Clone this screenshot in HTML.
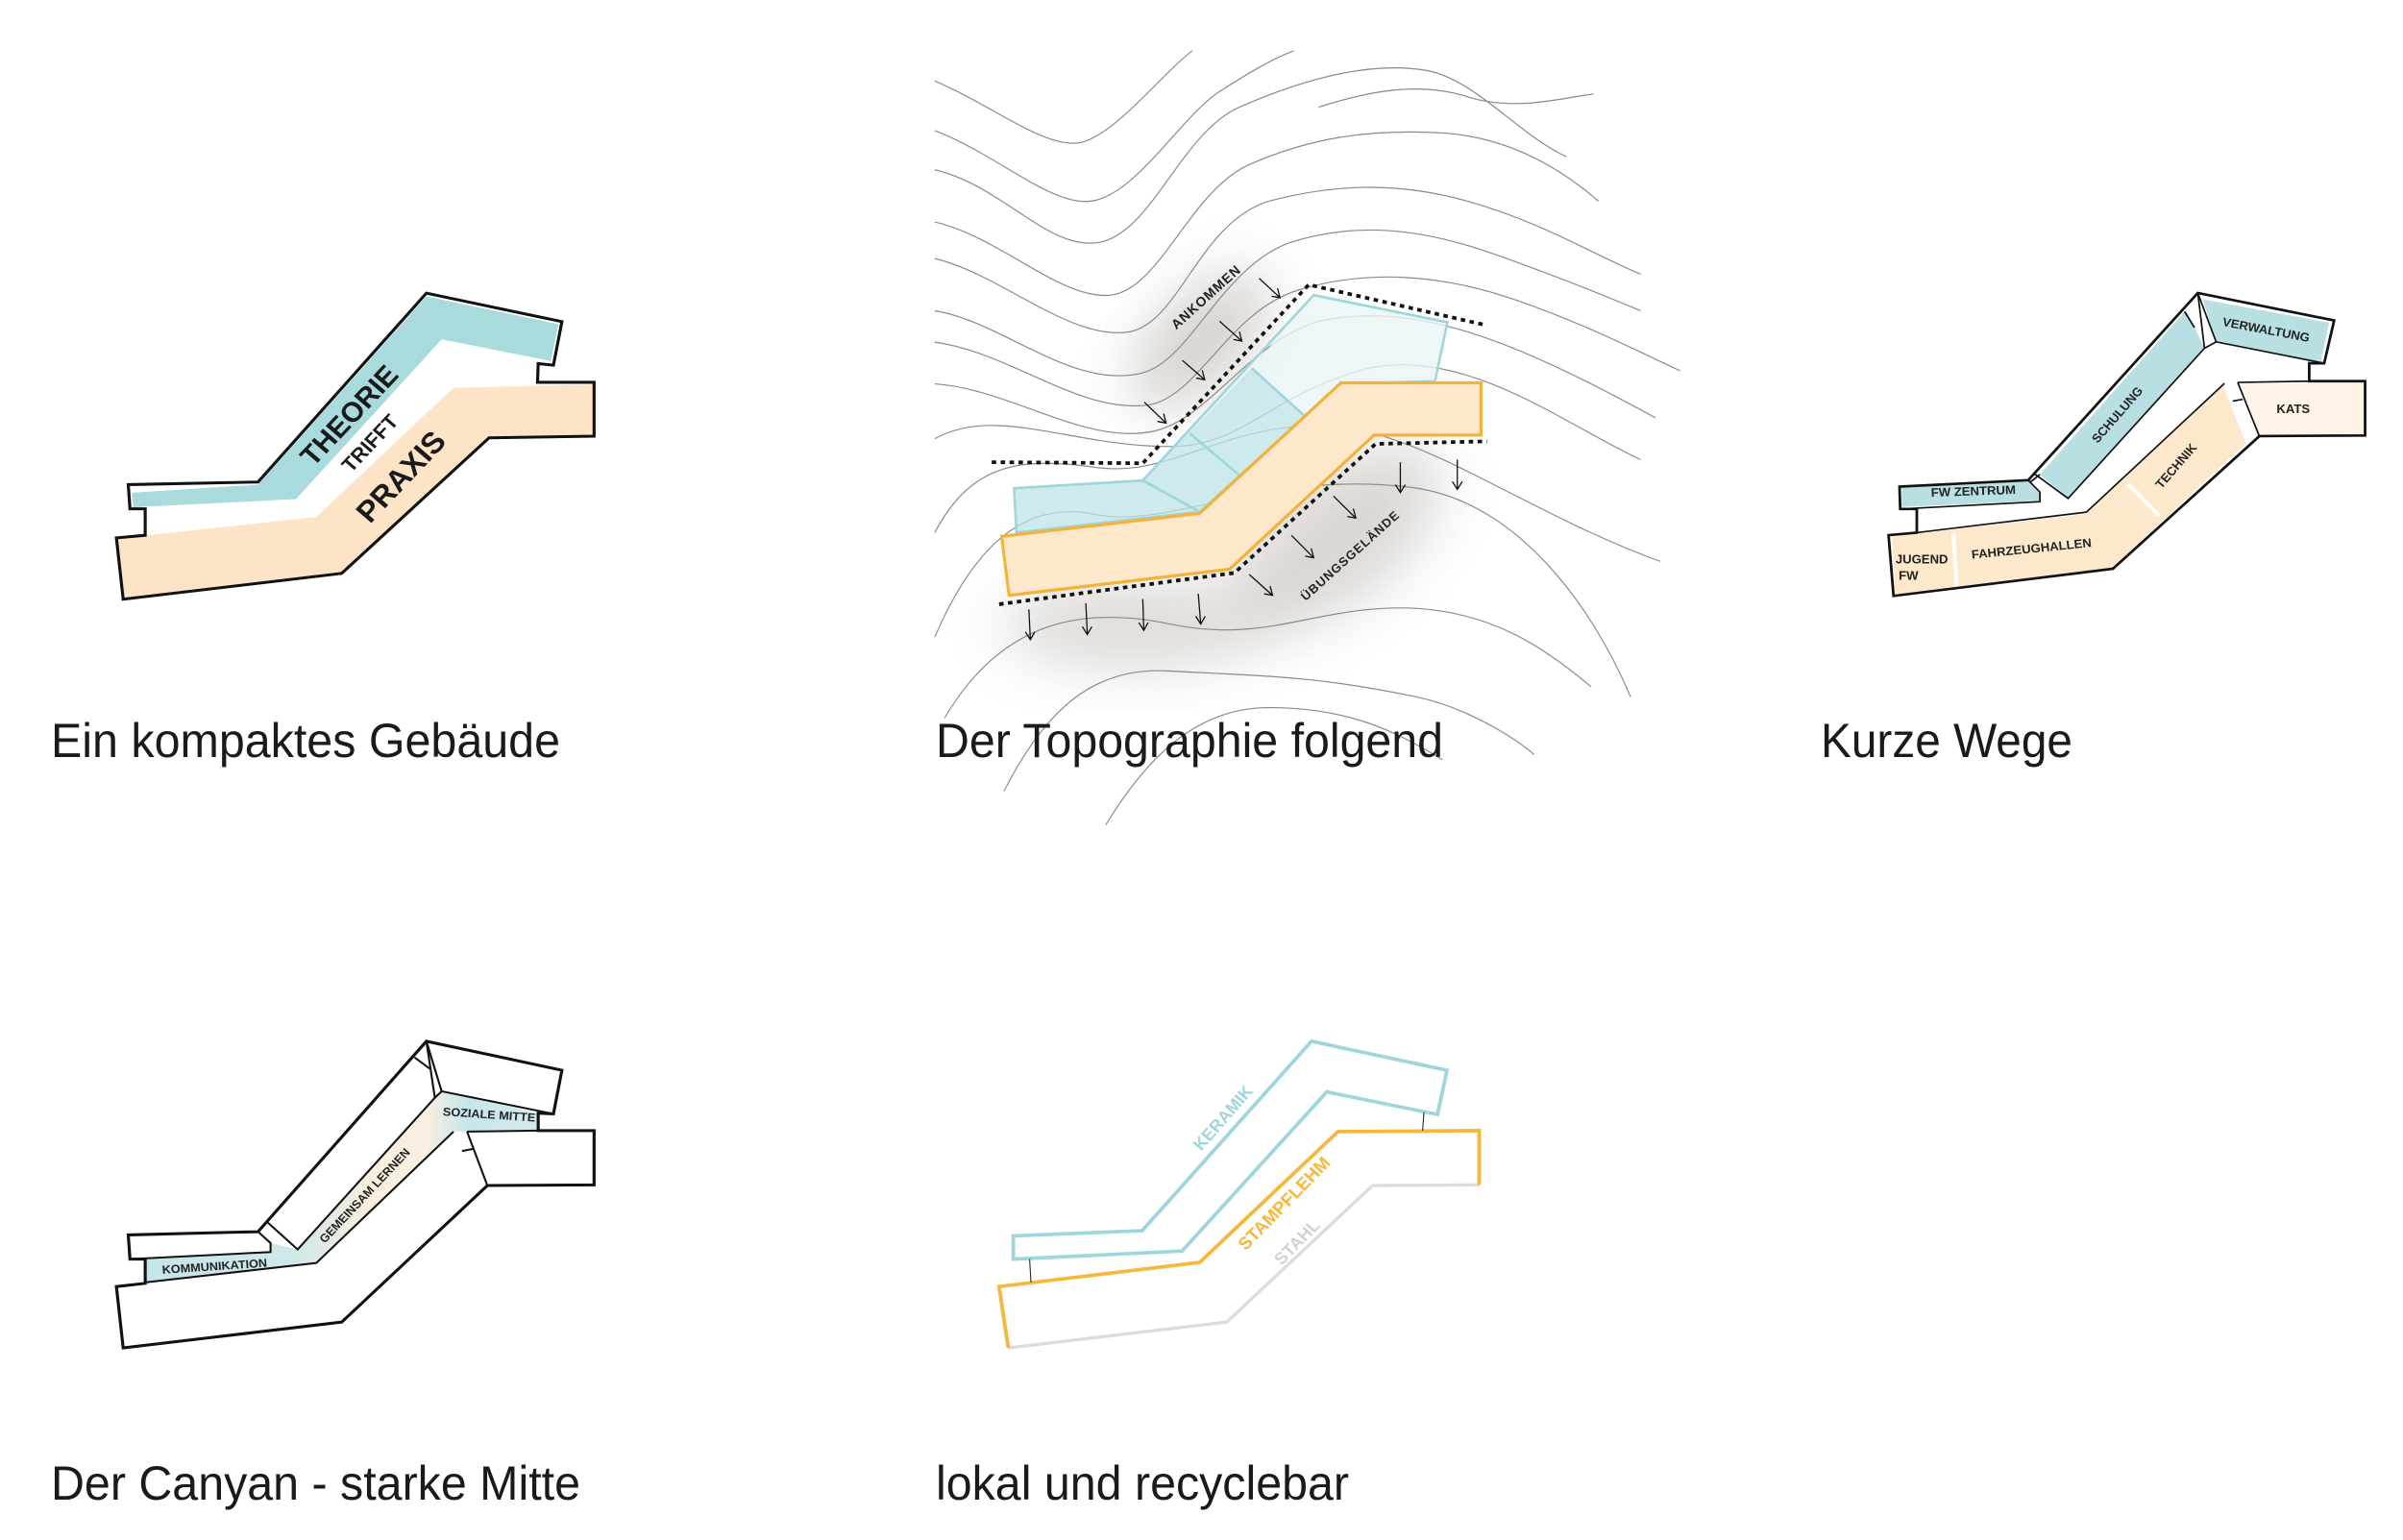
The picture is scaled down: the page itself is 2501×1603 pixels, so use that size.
<!DOCTYPE html>
<html><head><meta charset="utf-8"><style>
html,body{margin:0;padding:0;background:#fff;}
svg{display:block;}
text{font-family:"Liberation Sans",sans-serif;}
</style></head><body>
<svg width="2501" height="1603" viewBox="0 0 2501 1603" xmlns="http://www.w3.org/2000/svg">
<defs>
<filter id="blur" x="-50%" y="-50%" width="200%" height="200%"><feGaussianBlur stdDeviation="30"/></filter>
<linearGradient id="cor" gradientUnits="userSpaceOnUse" x1="145" y1="0" x2="1305" y2="0">
<stop offset="0" stop-color="#c6e5ea"/><stop offset="0.38" stop-color="#cfe8ea"/>
<stop offset="0.58" stop-color="#fbeedd"/><stop offset="0.72" stop-color="#f6efe2"/>
<stop offset="0.82" stop-color="#c6e5ea"/><stop offset="1" stop-color="#d3ebee"/>
</linearGradient>
</defs>
<rect width="2501" height="1603" fill="#fff"/>

<!-- Shape 1 -->
<g transform="translate(100,281) scale(0.3526,0.336)">
<path d="M105,690 L478,665 L975,82 L1365,168 L1342,282 L1020,215 L590,710 L110,735 Z" fill="#a9dbdd"/>
<path d="M62,832 L650,765 L1055,365 L1466,355 L1466,512 L1160,517 L725,937 L82,1016 Z" fill="#fde4c6"/>
<path d="M95,665 L478,657 L975,72 L1375,160 L1350,295 L1305,290 L1303,348 L1470,348 L1470,515 L1160,520 L725,940 L80,1020 L60,830 L145,822 L145,740 L100,740 Z" fill="none" stroke="#111" stroke-width="9" stroke-linejoin="miter"/>
<text transform="translate(752,455) rotate(-48)" font-size="86" font-weight="bold" fill="#1a1a1a" text-anchor="middle" dominant-baseline="middle">THEORIE</text>
<text transform="translate(812,540) rotate(-48)" font-size="62" font-weight="bold" fill="#1a1a1a" text-anchor="middle" dominant-baseline="middle">TRIFFT</text>
<text transform="translate(905,645) rotate(-48)" font-size="92" font-weight="bold" fill="#1a1a1a" text-anchor="middle" dominant-baseline="middle">PRAXIS</text>
</g>

<!-- Shape 2: topography -->
<ellipse cx="1250" cy="355" rx="90" ry="45" transform="rotate(-45 1250 355)" fill="#7a6e62" opacity="0.32" filter="url(#blur)"/>
<ellipse cx="1390" cy="560" rx="130" ry="65" transform="rotate(-40 1390 560)" fill="#7a6e62" opacity="0.28" filter="url(#blur)"/>
<ellipse cx="1180" cy="650" rx="140" ry="45" fill="#7a6e62" opacity="0.25" filter="url(#blur)"/>
<g transform="translate(960,30) scale(0.5155,0.5435)" fill="none">
<g stroke="#8a8a8a" stroke-width="2.2">
<path d="M25,100 C150,150 260,240 330,215 C400,190 480,90 545,42"/>
<path d="M25,195 C150,240 260,340 340,330 C430,320 520,170 600,120 C650,90 700,60 750,42"/>
<path d="M25,270 C160,300 250,420 350,410 C460,400 520,200 640,150 C760,100 900,60 1020,80 C1120,100 1200,200 1300,245"/>
<path d="M800,150 C900,120 1000,100 1100,130 C1200,160 1300,130 1355,125"/>
<path d="M25,370 C160,400 280,520 380,510 C480,500 540,310 660,260 C780,210 900,190 1060,200 C1180,210 1280,260 1365,330"/>
<path d="M25,440 C160,470 300,600 420,580 C520,560 560,370 700,330 C820,300 950,290 1100,330 C1250,370 1350,430 1450,470"/>
<path d="M25,540 C160,560 300,690 440,660 C540,640 600,460 740,410 C870,370 1000,380 1150,430 C1300,480 1400,520 1450,540"/>
<path d="M25,600 C180,620 320,740 460,720 C560,700 620,540 760,500 C900,460 1050,470 1200,520 C1350,570 1450,620 1530,655"/>
<path d="M25,680 C180,690 330,800 470,770 C580,745 660,600 800,560 C1000,520 1200,600 1480,745"/>
<path d="M25,785 C150,720 300,800 500,800 C650,800 700,700 900,650 C1100,610 1300,760 1450,825"/>
<path d="M25,965 C100,830 200,820 350,840 C500,860 600,760 800,760 C1000,760 1200,920 1490,1020"/>
<path d="M25,1165 C100,1000 200,900 350,930 C500,960 700,840 1000,880 C1200,910 1350,1100 1430,1280"/>
<path d="M45,1320 C150,1150 300,1100 500,1140 C700,1180 800,1100 1000,1110 C1150,1120 1250,1180 1350,1260"/>
<path d="M165,1460 C250,1300 350,1220 500,1230 C700,1240 800,1240 1000,1280 C1100,1300 1200,1360 1235,1390"/>
<path d="M370,1525 C450,1400 550,1300 700,1300 C850,1300 950,1340 1050,1400"/>
</g>
<path d="M185,880 L445,865 L665,650 L770,740 L560,925 L190,965 Z" fill="#bfe3e6" opacity="0.75"/>
<path d="M665,650 L790,510 L1060,562 L1035,675 L845,680 L770,740 Z" fill="#e8f5f6" opacity="0.8"/>
<path d="M185,880 L445,865 L790,510 L1060,562 L1035,675 L845,680 L560,925 L190,965 Z" fill="none" stroke="#9fd6dc" stroke-width="5"/>
<path d="M665,650 L770,740 M540,775 L640,855 M445,865 L560,925" stroke="#9fd6dc" stroke-width="5"/>
<path d="M160,972 L560,928 L845,678 L1128,678 L1128,778 L912,778 L620,1035 L175,1085 Z" fill="#fde8cb" stroke="#f3b23a" stroke-width="6"/>
<g stroke="#111" stroke-width="7" stroke-dasharray="9,9">
<path d="M140,830 L445,832 L780,490 L1140,568"/>
<path d="M155,1102 L630,1042 L915,795 L1140,790"/>
</g>
<g stroke="#111" stroke-width="2.5">
<path d="M680,478 L722,515 M705,512 L722,515 L717,497"/>
<path d="M600,560 L645,598 M628,595 L645,598 L640,580"/>
<path d="M525,635 L570,672 M553,669 L570,672 L565,654"/>
<path d="M448,715 L492,755 M475,752 L492,755 L487,737"/>
<path d="M660,1045 L707,1085 M690,1082 L707,1085 L702,1067"/>
<path d="M745,970 L790,1013 M773,1010 L790,1013 L785,995"/>
<path d="M830,895 L875,937 M858,934 L875,937 L870,919"/>
<path d="M215,1112 L218,1170 M208,1155 L218,1170 L227,1155"/>
<path d="M330,1100 L333,1160 M323,1145 L333,1160 L342,1145"/>
<path d="M445,1092 L447,1152 M437,1137 L447,1152 L456,1137"/>
<path d="M557,1082 L562,1140 M552,1125 L562,1140 L571,1125"/>
<path d="M965,830 L965,888 M955,873 L965,888 L975,873"/>
<path d="M1080,825 L1080,882 M1070,867 L1080,882 L1090,867"/>
</g>
</g>
<text transform="translate(1256,310) rotate(-42)" font-size="14" font-weight="bold" fill="#222" letter-spacing="1" text-anchor="middle" dominant-baseline="middle">ANKOMMEN</text>
<text transform="translate(1406,579) rotate(-42)" font-size="13" font-weight="bold" fill="#222" letter-spacing="1" text-anchor="middle" dominant-baseline="middle">ÜBUNGSGELÄNDE</text>

<!-- Shape 3 -->
<g transform="translate(1950,291) scale(0.3461,0.3326)">
<path d="M85,652 L465,632 L500,670 L500,692 L85,712 Z" fill="#b8e0e3"/>
<path d="M500,610 L940,95 L995,215 L585,685 Z" fill="#b8e0e3"/>
<path d="M990,62 L1370,135 L1345,258 L1030,195 Z" fill="#b8e0e3"/>
<path d="M55,805 L640,733 L1050,332 L1120,512 L720,900 L65,985 Z" fill="#fde8cc"/>
<path d="M1100,325 L1472,322 L1472,485 L1162,488 Z" fill="#fef3e6"/>
<path d="M240,795 L250,960 M765,640 L860,740" stroke="#fff" stroke-width="12"/>
<g fill="none" stroke="#111" stroke-width="8">
<path d="M45,800 L60,990 L720,905 L1160,490 L1478,488 L1478,318 L1310,318 L1310,262 L1355,262 L1385,128 L975,42 L465,628 L78,648 L80,718 L130,718 L130,792 Z"/>
</g>
<g fill="none" stroke="#111" stroke-width="5">
<path d="M80,718 L500,695 L500,665 L465,628"/>
<path d="M130,792 L640,728 L1055,325"/>
<path d="M1095,322 L1160,490 M1095,322 L1310,318"/>
<path d="M480,605 L585,685 L995,215 L975,42"/>
<path d="M995,215 L1030,195 L1355,262"/>
<path d="M975,42 L1030,195"/>
<path d="M470,635 L500,610 M935,100 L965,150 M1080,380 L1110,375"/>
</g>
<g font-size="38" font-weight="bold" fill="#222" text-anchor="middle" dominant-baseline="middle">
<text transform="translate(1180,160) rotate(11)">VERWALTUNG</text>
<text transform="translate(735,425) rotate(-50)">SCHULUNG</text>
<text transform="translate(300,665) rotate(-2)">FW ZENTRUM</text>
<text transform="translate(1262,408)">KATS</text>
<text transform="translate(912,585) rotate(-50)">TECHNIK</text>
<text transform="translate(475,845) rotate(-6)">FAHRZEUGHALLEN</text>
<text x="145" y="878">JUGEND</text>
<text x="105" y="930">FW</text>
</g>
</g>

<!-- Shape 4 -->
<g transform="translate(100,1062) scale(0.3526,0.336)">
<path d="M145,740 L515,718 L515,690 L595,710 L1000,240 L1020,220 L1305,288 L1305,342 L1095,345 L1055,345 L650,752 L145,812 Z" fill="url(#cor)"/>
<g fill="none" stroke="#111" stroke-width="9">
<path d="M95,665 L478,655 L975,65 L1375,155 L1350,290 L1305,288 L1305,342 L1470,342 L1470,510 L1155,512 L725,935 L80,1015 L60,825 L145,815 L145,740 L100,740 Z"/>
</g>
<g fill="none" stroke="#111" stroke-width="6">
<path d="M100,740 L515,718 L515,690 L478,655"/>
<path d="M505,625 L595,710 L1000,240 L975,65"/>
<path d="M1000,240 L1020,220 L1350,290"/>
<path d="M975,65 L1020,220"/>
<path d="M145,812 L650,752 L1055,345"/>
<path d="M1095,345 L1305,342 M1095,345 L1155,512"/>
<path d="M478,655 L505,625 M940,115 L985,150 M1080,405 L1115,398"/>
</g>
<g font-size="36" font-weight="bold" fill="#222" text-anchor="middle" dominant-baseline="middle">
<text transform="translate(1160,295) rotate(4)">SOZIALE MITTE</text>
<text transform="translate(795,545) rotate(-48)">GEMEINSAM LERNEN</text>
<text transform="translate(350,765) rotate(-4)">KOMMUNIKATION</text>
</g>
</g>

<!-- Shape 5 -->
<g transform="translate(1030,1062) scale(0.3526,0.336)" fill="none">
<path d="M70,668 L450,652 L950,65 L1350,155 L1322,292 L995,222 L568,715 L70,740 Z" stroke="#9fd6dc" stroke-width="11"/>
<path d="M55,1015 L700,935 L1130,512 L1445,510" stroke="#dcdcdc" stroke-width="10"/>
<path d="M55,1015 L28,825 L620,750 L1028,345 L1445,342 L1445,510" stroke="#f5b83d" stroke-width="11"/>
<path d="M118,740 L122,812 M1282,285 L1278,342" stroke="#222" stroke-width="3"/>
<g font-weight="bold" text-anchor="middle" dominant-baseline="middle" stroke="none">
<text transform="translate(692,305) rotate(-50)" font-size="52" fill="#9fd6dc">KERAMIK</text>
<text transform="translate(872,570) rotate(-47)" font-size="54" fill="#f5b83d">STAMPFLEHM</text>
<text transform="translate(910,690) rotate(-47)" font-size="52" fill="#d2d2d2">STAHL</text>
</g>
</g>

<!-- Captions -->
<g font-size="50" fill="#1a1a1a">
<text x="53" y="788" textLength="530" lengthAdjust="spacingAndGlyphs">Ein kompaktes Gebäude</text>
<text x="974" y="788" textLength="528" lengthAdjust="spacingAndGlyphs">Der Topographie folgend</text>
<text x="1895" y="788" textLength="262" lengthAdjust="spacingAndGlyphs">Kurze Wege</text>
<text x="53" y="1561" textLength="551" lengthAdjust="spacingAndGlyphs">Der Canyan - starke Mitte</text>
<text x="974" y="1561" textLength="430" lengthAdjust="spacingAndGlyphs">lokal und recyclebar</text>
</g>
</svg>
</body></html>
